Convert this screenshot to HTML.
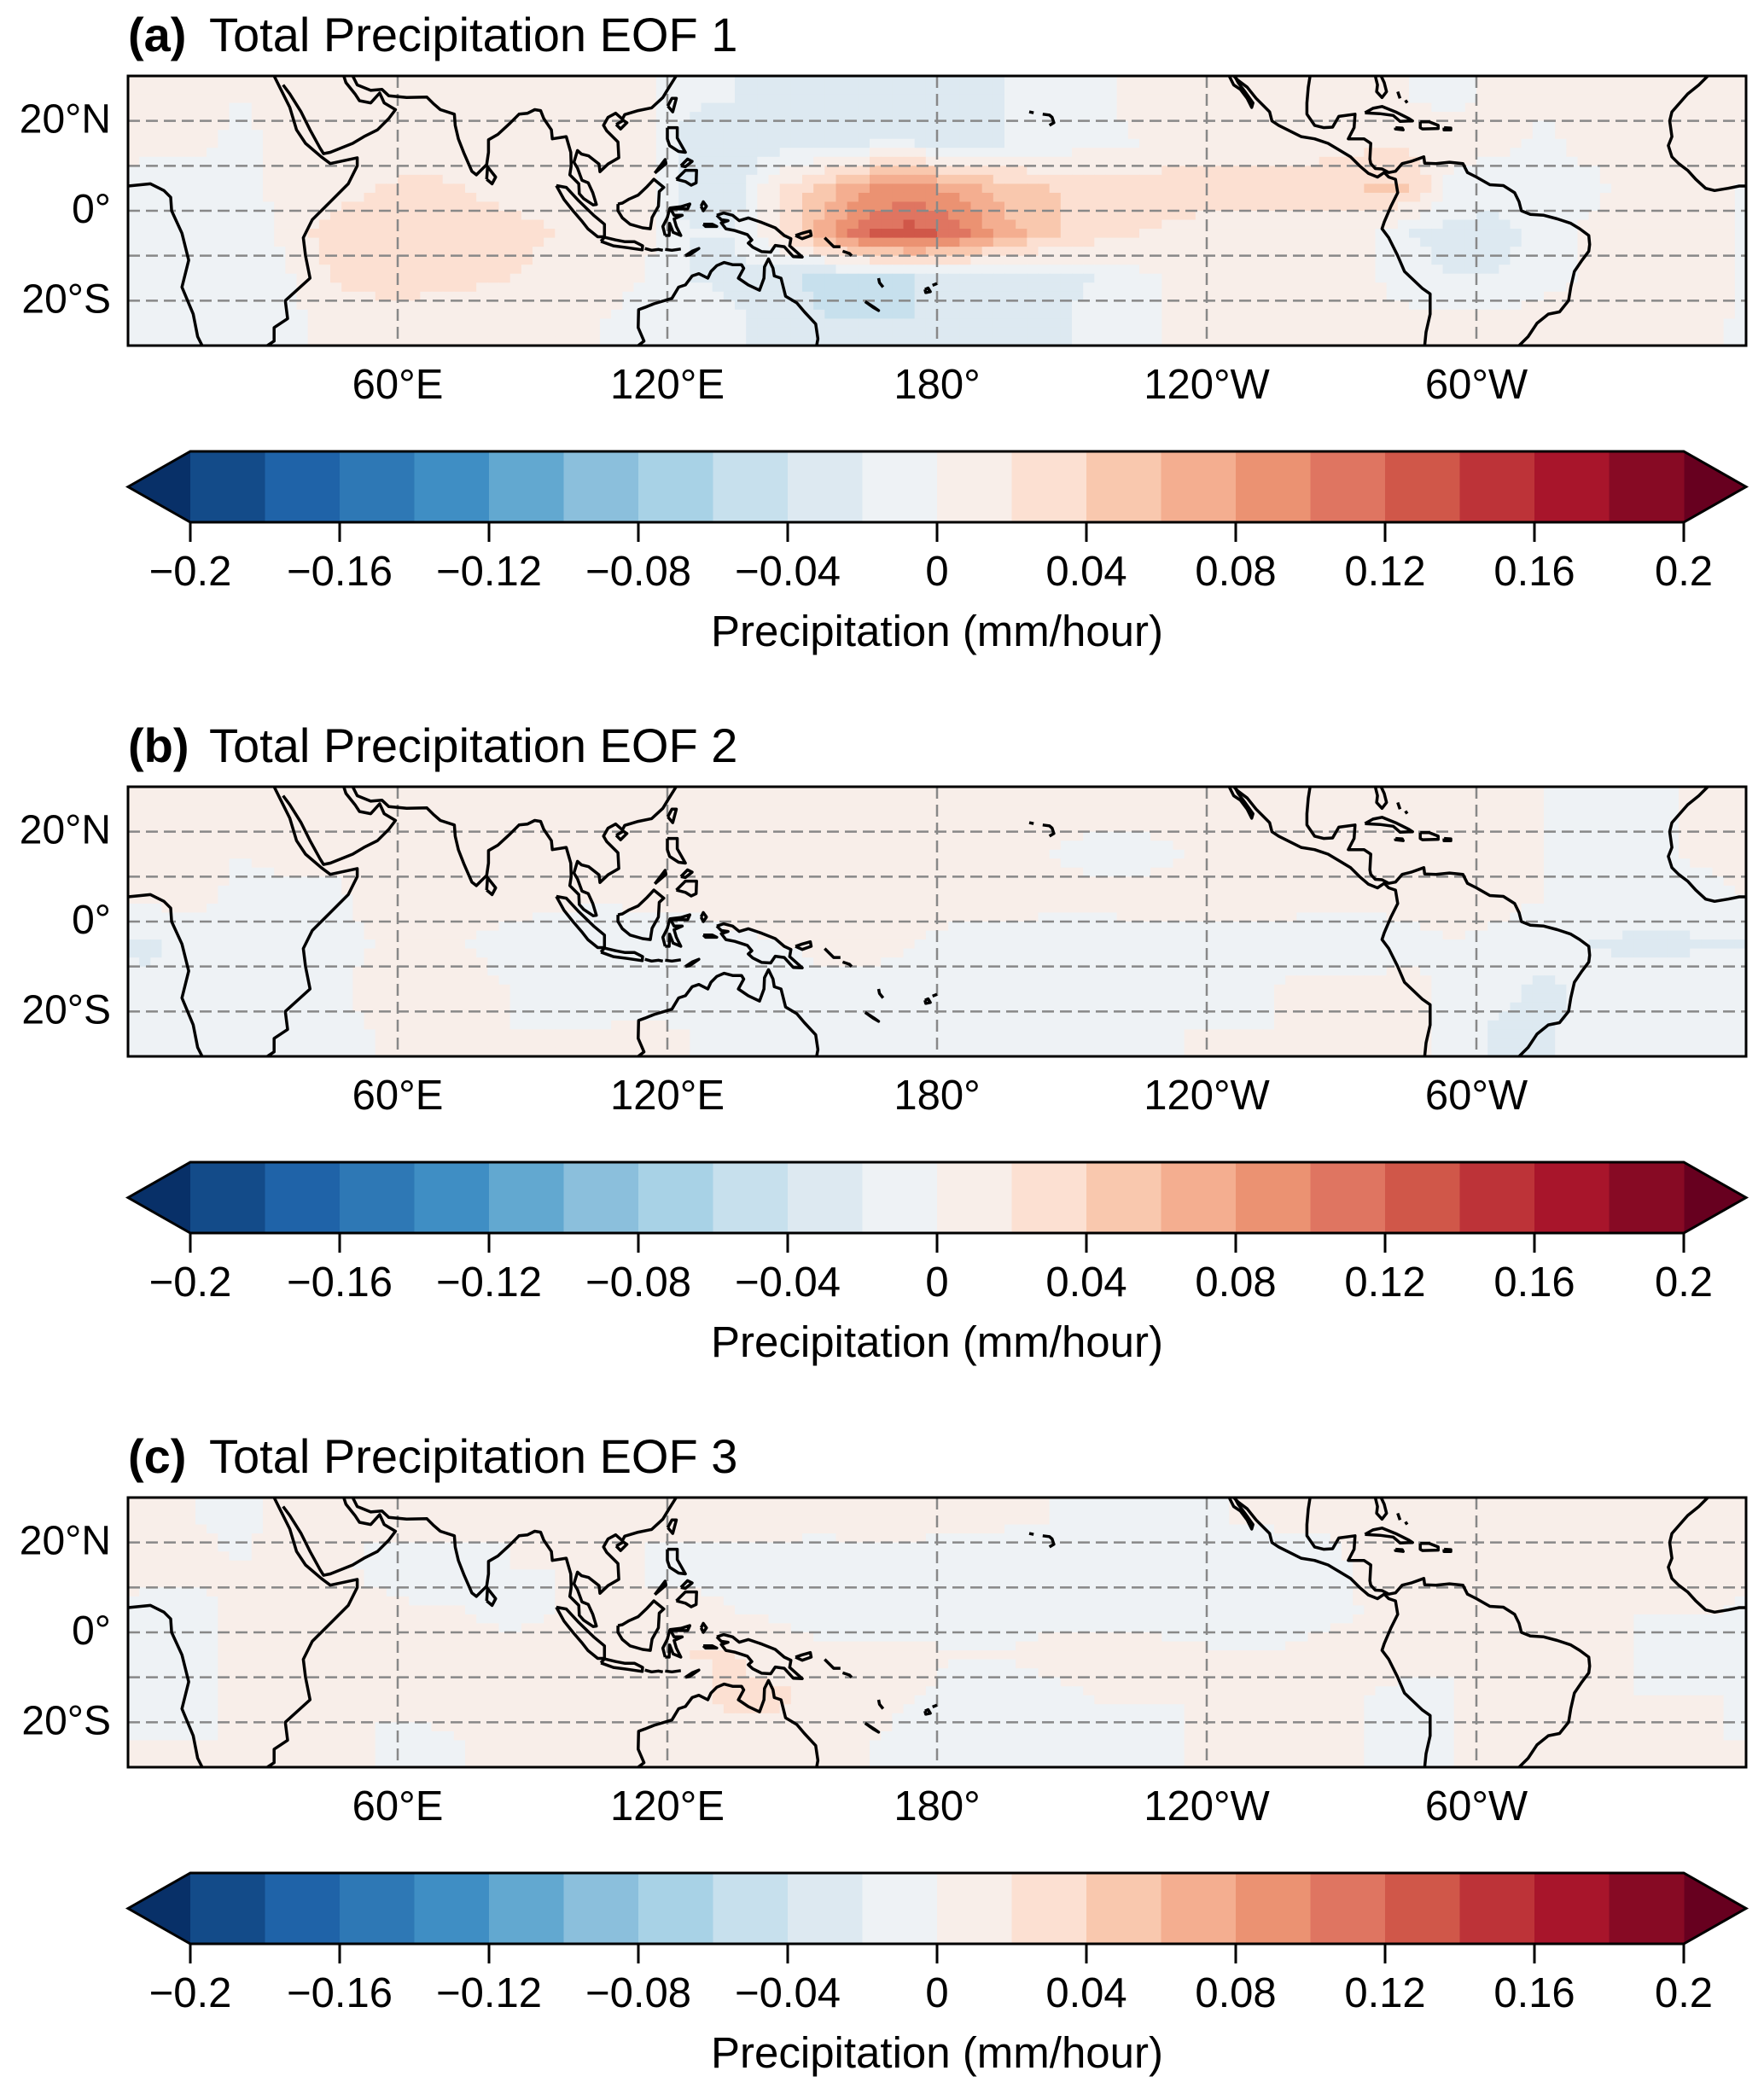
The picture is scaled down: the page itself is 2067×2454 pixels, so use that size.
<!DOCTYPE html>
<html><head><meta charset="utf-8"><style>
html,body{margin:0;padding:0;background:#fff;}
svg{display:block;font-family:"Liberation Sans",Arial,sans-serif;}
</style></head><body>
<svg id="fig" xmlns="http://www.w3.org/2000/svg" width="2067" height="2454" viewBox="0 0 2067 2454"></svg>
<script>
// ---- data arrays ----
const lonTicks = [60, 120, 180, 240, 300];
const lonTickLabels = ['60°E', '120°E', '180°', '120°W', '60°W'];
const latTicks = [20, 0, -20];
const latTickLabels = ['20°N', '0°', '20°S'];
const latGrid = [20, 10, 0, -10, -20];
const cbTicks = [-0.2, -0.16, -0.12, -0.08, -0.04, 0, 0.04, 0.08, 0.12, 0.16, 0.2];
const cbTickLabels = ['\u22120.2', '\u22120.16', '\u22120.12', '\u22120.08', '\u22120.04', '0', '0.04', '0.08', '0.12', '0.16', '0.2'];
const panelLetters = ['(a)', '(b)', '(c)'];
const panelTitles = ['Total Precipitation EOF 1', 'Total Precipitation EOF 2', 'Total Precipitation EOF 3'];
// grid: lat rows 25,15,5,-5,-15,-25 ; lon centres 5..355 step 10
const gridLats = [25, 15, 5, -5, -15, -25];
const eof1Field = [
[.005,.005,0,.005,.005,.005,.005,.005,.01,.01,.005,.005,-.015,-.02,-.025,-.025,-.025,-.025,-.025,-.02,-.01,-.005,.005,.005,.01,.005,.005,.005,0,-.005,.005,.005,.005,.005,.005,.005],
[.005,.005,-.005,.005,.01,.01,.01,.005,.01,.005,.005,.005,-.035,-.04,-.03,-.025,-.02,-.02,-.025,-.02,-.015,-.005,0,.01,.01,.01,.01,.015,.015,.01,.005,-.005,.005,.005,.005,.005],
[-.01,-.01,-.005,.005,.01,.02,.025,.02,.01,.01,.005,.005,-.03,-.03,.02,.05,.08,.09,.07,.05,.04,.035,.03,.03,.03,.03,.035,.04,.045,-.01,-.015,-.005,-.005,.005,.005,.005],
[-.015,-.01,-.015,.005,.03,.035,.035,.035,.03,.02,.01,.005,-.02,-.02,.02,.07,.12,.13,.11,.07,.045,.03,.02,.015,.01,.01,.01,.005,-.02,-.025,-.025,-.015,.005,.005,.005,.005],
[-.01,-.01,-.005,-.005,.02,.03,.03,.025,.02,.01,.005,0,-.02,-.025,-.035,-.045,-.045,-.04,-.035,-.03,-.025,-.02,-.005,.005,.005,.005,.005,.005,-.015,-.02,-.02,-.01,.005,.01,.005,.005],
[-.005,-.005,0,-.005,.005,.005,.005,.005,.005,.005,0,-.005,-.01,-.015,-.03,-.04,-.04,-.04,-.035,-.03,-.025,-.015,-.005,.005,.005,.005,.005,.01,.01,.005,.005,.015,.01,.005,.005,0]
];
const eof2Field = [
[0,.005,.005,.005,0,.005,.005,.005,.005,.005,.005,.005,.005,.005,.005,0,0,.005,.005,.005,.005,.005,.005,.005,.005,.01,.01,.01,.01,.005,.005,0,-.005,-.005,0,0],
[.01,.005,0,.005,.005,.005,.005,.01,.01,.005,.005,.005,.01,.01,.01,.005,.005,.005,.005,.005,0,-.005,-.005,0,.005,.01,.015,.015,.01,.01,.005,0,-.005,-.005,0,.005],
[.005,.005,-.005,-.005,-.005,.005,.005,.005,.005,.005,0,.005,.005,.01,.015,.015,.015,.015,.01,.01,.005,.005,.005,.005,.005,.005,.005,.005,.005,.005,.005,0,-.005,-.005,-.005,-.005],
[-.025,-.01,-.005,-.005,-.005,0,.005,0,-.005,-.01,-.01,-.01,-.01,-.005,0,.005,.005,0,-.01,-.01,-.01,-.01,-.005,-.005,-.005,-.005,-.01,-.01,-.005,0,-.005,-.01,-.02,-.025,-.025,-.02],
[-.015,-.005,0,-.005,-.005,.005,.005,.005,0,-.005,-.005,-.01,-.01,-.01,-.01,-.005,-.005,-.005,-.005,-.005,-.01,-.005,-.005,-.005,-.005,0,.005,.005,.005,-.005,-.015,-.025,-.015,-.005,-.005,-.005],
[-.005,0,-.005,-.01,-.005,0,.005,.005,0,0,0,.005,0,-.005,-.005,-.005,-.01,-.01,-.005,-.01,-.015,-.01,-.005,0,0,0,.005,.005,.005,-.005,-.025,-.025,-.01,-.005,-.005,0]
];
const eof3Field = [
[0,0,-.005,.005,.005,.005,.005,.005,0,0,.005,0,.005,.005,.005,.005,.015,.015,.01,.005,0,-.005,-.005,-.005,0,.005,.005,.005,.005,0,0,.005,.005,.005,.005,.005],
[.005,.005,0,.005,.005,-.005,-.005,-.005,0,0,.005,0,-.005,-.005,-.005,-.01,-.015,-.02,-.02,-.02,-.015,-.01,-.01,-.015,-.02,-.02,-.01,.005,.005,.005,.005,0,0,0,.005,.005],
[-.005,-.005,.005,.015,.005,.005,0,0,-.005,0,.005,0,.005,0,-.005,-.01,-.01,-.01,-.01,-.005,-.005,-.005,-.005,-.01,-.01,-.005,-.005,0,.005,.005,.01,.005,.005,0,0,0],
[-.01,-.005,.005,.01,.005,.005,.005,.005,.005,.005,.01,.01,.02,.02,.01,.005,.005,.005,0,0,.005,.005,.005,.005,0,0,.005,.005,.005,0,0,.005,0,0,-.005,-.005],
[-.005,-.005,.005,.005,.005,0,.005,.005,.005,.005,.005,.01,.015,.025,.025,.01,.005,0,-.005,-.005,-.005,0,0,0,.005,.005,.005,0,-.005,0,.005,.005,.005,0,0,0],
[0,0,0,.005,0,0,-.005,0,.005,.005,0,0,.005,.01,.005,0,0,-.005,-.01,-.015,-.015,-.01,-.005,0,.005,.005,.005,0,-.005,0,.005,.005,0,0,0,0]
];
const fields = [eof1Field, eof2Field, eof3Field];
// coastlines [lon(0-360), lat]
const coasts = [
[[0,5.5],[5,6],[8,4.5],[9.5,3],[9.7,0],[12,-5],[13.5,-11],[12,-17],[14.5,-23],[15.5,-28],[16.5,-30]],
[[32.5,30],[34,27],[36,23],[37.5,18],[39.5,15],[43,12],[45,10.5],[51,11.8],[51,10],[49,6],[45,2],[41,-2],[39,-6],[39.5,-10],[40.5,-15],[35,-20],[35.5,-24],[32.5,-26],[32.5,-29],[31,-30]],
[[34.5,28],[36,26],[38.5,22],[40.5,18],[42.7,14],[43.5,12.7],[45,13],[50,15],[52.5,16.5],[55.5,18],[58,20.5],[59.5,22.5],[57,24],[56,26.2],[54,24],[51.5,24.5],[50.5,26],[48.5,28.5],[48,30]],
[[50,30],[51,28],[54,26.8],[56.5,27],[58,25.6],[62,25.2],[66.5,25.3],[68,23.8],[69.5,22.5],[72.6,21.5],[72.8,19],[73.5,16],[74.8,12.7],[76.5,8.8],[77.5,8],[79.8,10.3],[80.2,13],[80.2,15.8],[82.3,17],[85,19.5],[87,21.5],[88.9,21.7],[90.5,22.5],[91.8,22.3],[92.5,20.5],[94.2,18],[94.4,16],[97.5,16.5],[98.5,13],[98.6,10],[98.3,8],[100.3,6],[100.4,3.8],[101.4,2.7],[103.5,1.3],[104.2,1.4],[103.4,4],[102.4,6.2],[101,6.8],[100,9.5],[99.2,10.8],[100,13.4],[100.9,12.6],[102.5,12.2],[104.8,10.4],[105,8.7],[106.8,10.4],[109.2,11.8],[109,15.3],[106.5,17.8],[105.8,19],[106.8,20.8],[108.5,21.7],[110,20.4],[110.5,21.4],[113.5,22.3],[116.5,22.9],[119,25.2],[120.2,27.2],[121.9,29.9],[122,30]],
[[108.6,19.2],[110.2,20.1],[111,19.6],[109.6,18.2],[108.6,19.2]],
[[120.1,23.3],[121,25],[122,25],[121.2,22],[120.1,23.3]],
[[79.8,7],[80,9.8],[81.8,7.5],[81,6],[79.8,7]],
[[120,18.5],[122.2,18.5],[122.2,16.2],[124,13],[122.5,13.2],[120.5,14.5],[120,16],[120,18.5]],
[[122,7],[124,9],[126.5,9],[126.4,6.2],[125.3,5.7],[124,6.5],[122,7]],
[[123,10],[124.5,11.5],[125.5,11],[124,9.8],[123,10]],
[[117.2,8.4],[119.5,11.4],[119.7,10.5],[117.2,8.4]],
[[109,1.5],[110,1.7],[111.5,2.6],[113.5,3.5],[115.5,5.4],[117,7],[119.2,5.2],[118.2,4.3],[118,1],[116.6,-1.5],[116.2,-4],[114.5,-3.8],[111.7,-3],[110,-1.6],[109,0],[109,1.5]],
[[95.3,5.6],[97.5,5.2],[100.3,2.2],[103.6,-1],[106,-3],[106,-5.8],[104.5,-5.8],[102.3,-4],[100.9,-2.2],[99,0],[97,2.5],[95.3,5.6]],
[[105.2,-6.8],[106,-5.9],[108.5,-6.5],[110.6,-6.9],[112.7,-6.9],[114.5,-7.8],[114.4,-8.7],[111,-8.2],[108,-7.8],[105.2,-6.8]],
[[115,-8.4],[116.5,-8.8],[118,-8.6],[119,-8.8]],
[[119.5,-8.6],[121,-8.8],[123,-8.5]],
[[124,-10],[125.5,-9],[127,-8.4],[125,-9.8],[124,-10]],
[[119.5,-5.5],[120.4,-5.5],[120.5,-2.8],[121.3,-4.8],[123,-5.5],[122,-3.5],[121.5,-1.8],[123.3,-1],[121.5,-1],[120.6,0.6],[123,0.9],[125,1.5],[124.5,0.4],[120.5,0.4],[120,-1.5],[119,-3.5],[119.5,-5.5]],
[[127.5,1],[128,2],[128.7,1],[128,0],[127.5,1]],
[[128,-3],[130,-3],[131,-3.5],[128.5,-3.5],[128,-3]],
[[131,-1],[132.5,-0.5],[134.5,-1],[136,-2.2],[138,-1.6],[141,-2.6],[144,-3.8],[146,-5.5],[147.5,-6.2],[147.2,-7.8],[150,-10.3],[148,-10.2],[146,-8],[144,-7.7],[143,-9.2],[141,-9.1],[139,-8.1],[138,-7.2],[138.8,-6.5],[137.8,-5.3],[135,-4.4],[133,-4],[132,-2.7],[133.5,-2.2],[132,-2],[131,-1]],
[[148.5,-5.5],[150,-5],[151.8,-4.5],[152,-5.5],[150,-6.2],[148.5,-5.5]],
[[155,-6],[156,-7],[157,-8],[158.5,-8]],
[[159,-9],[160.5,-9.5],[161,-10]],
[[167,-15],[167.2,-16],[168,-17]],
[[164,-20.2],[165.8,-21.5],[167,-22.2],[166,-21.5],[164,-20.2]],
[[177.3,-17.5],[178,-17.2],[178.5,-18],[177.5,-18.2],[177.3,-17.5]],
[[179,-16.6],[180,-16.2]],
[[200.5,22],[201.5,21.8]],
[[203.5,21.5],[205,21.3],[205.6,20.8],[206,19.6],[205,19]],
[[113.5,-30],[114.8,-29],[113.5,-26],[113.6,-22],[115,-21.5],[117,-20.7],[121,-19.5],[122.5,-17],[124,-16.5],[125.5,-14.5],[127,-14],[129,-15],[129.7,-13.5],[131,-12.2],[132.6,-11.5],[134.5,-12],[136.5,-12],[137,-12.8],[135.8,-15],[138,-16.5],[140.5,-17.7],[141.5,-15],[141.6,-12.5],[142.5,-10.7],[143.5,-12.8],[143.8,-14.5],[145.3,-15],[146.3,-19],[148.8,-20.5],[150.5,-22.5],[153,-25.2],[153.5,-28.5],[153.2,-30]],
[[245,30],[246,28],[247.5,27],[249,25],[250,23],[250.3,24],[248.5,26.5],[247,28.5],[246.2,30]],
[[245.5,30.5],[247,29],[249,27.5],[251,25],[254,22],[254.5,20],[256,19],[258,18],[261,16.5],[264,16],[267,15],[269.5,13.5],[272,12],[274,10],[276,8.3],[278,7.5],[279.5,8.5],[280.5,7.5],[282,7],[282.5,4],[281,1],[279.5,-2.5],[279,-4],[280.5,-6],[282.5,-10],[284,-13.5],[288,-17.3],[289.7,-18.5],[289.7,-23],[288.8,-27],[288.5,-30]],
[[263,30],[262.6,27.5],[262.3,24],[262.3,21.5],[264,19],[266,18.5],[268,18.6],[269.4,21],[273,21.5],[272.8,18.5],[271.5,16],[275,16],[276.5,15],[276.3,11.5],[276.5,10.5],[277.5,9.4],[279,9.3],[280.5,8.5],[282,8.8],[283.5,10.5],[285.5,11],[288.3,12],[288.5,10.6],[291,10.5],[294,10.8],[297,10.5],[298,8.5],[300,7.5],[303,5.8],[306,5.6],[308.5,4],[309.5,2],[310,0],[312,-0.8],[315,-1],[318,-1.8],[321,-2.8],[323,-4],[325,-5.5],[325.2,-7.5],[325,-9],[323.5,-11],[321.8,-13.5],[321,-17],[320.5,-20],[318.5,-22.5],[316,-23],[313.5,-25],[311.5,-28],[309.5,-30]],
[[277.5,30],[278,28],[277.8,26.5],[279,25.2],[280,26.5],[279.5,28.5],[278.8,30]],
[[275.2,21.8],[277,22.8],[279,23.2],[282,22],[285,20.5],[285.8,20],[283,19.9],[281.5,21.2],[278.5,21.6],[275.2,21.8]],
[[287.5,19.8],[289.5,19.8],[291.5,19],[291.5,18.3],[288,18.2],[287.5,18.5],[287.5,19.8]],
[[282,18.5],[283.5,18.4],[283.7,18],[282,18.2],[282,18.5]],
[[292.8,18.5],[294.3,18.4],[294.3,18],[292.8,18],[292.8,18.5]],
[[282.5,26.5],[283,25]],
[[284.2,24.6],[284.6,24]],
[[351.5,30],[349.5,28],[347,26],[343.5,22],[343,20],[343.5,16.5],[342.7,14.5],[343.5,12],[345,10.5],[347,9],[348.8,7],[351,5],[353,4.5],[356,5],[358.5,5.5],[360,5.5]]
];

// ---- styles ----
const blues = ['#134b89','#1f63a8','#2e78b5','#3f8ec4','#62a8d0','#8bbfdc','#a8d2e6','#c7e0ed','#dde9f1','#eef2f5'];
const reds = ['#f8eee9','#fce0d2','#f9c8ae','#f4ae90','#eb9272','#df7561','#d05749','#bd3338','#a8152b','#870a24'];
const binColors = blues.concat(reds);
const underColor = '#083068', overColor = '#67001f';
const vmin = -0.2, vmax = 0.2, nBins = 20;

const NS = 'http://www.w3.org/2000/svg';
const svg = document.getElementById('fig');
function mk(tag, attrs, parent) {
  const e = document.createElementNS(NS, tag);
  for (const k in attrs) e.setAttribute(k, attrs[k]);
  (parent || svg).appendChild(e);
  return e;
}
const mapL = 150, mapR = 2046, mapT = 89, mapB = 405;
const offsets = [0, 833, 1666];
function xLon(lon) { return mapL + (lon / 360) * (mapR - mapL); }
function yLat(lat, dy) { return dy + mapT + ((30 - lat) / 60) * (mapB - mapT); }
const cbL = 223, cbR = 1973, cbT = 529, cbB = 612;
function xVal(v) { return cbL + (v - vmin) / (vmax - vmin) * (cbR - cbL); }
function colorOf(v) {
  if (v < vmin) return underColor;
  if (v >= vmax) return overColor;
  let i = Math.floor((v - vmin) / ((vmax - vmin) / nBins) + 1e-9);
  return binColors[Math.max(0, Math.min(nBins - 1, i))];
}
function sample(field, lon, lat) {
  let fi = (lon - 5) / 10; fi = ((fi % 36) + 36) % 36;
  let i0 = Math.floor(fi), i1 = (i0 + 1) % 36, tx = fi - i0;
  let fj = (25 - lat) / 10; fj = Math.max(0, Math.min(5, fj));
  let j0 = Math.floor(fj), j1 = Math.min(5, j0 + 1), ty = fj - j0;
  const a = field[j0][i0] * (1 - tx) + field[j0][i1] * tx;
  const b = field[j1][i0] * (1 - tx) + field[j1][i1] * tx;
  return a * (1 - ty) + b * ty;
}

offsets.forEach((dy, p) => {
  const g = mk('g', {});
  
  
  const t1 = mk('text', {x: 150, y: dy + 60, 'font-size': 56, 'font-weight': 'bold'}, g);
  t1.textContent = panelLetters[p];
  
  
  const t2 = mk('text', {x: 245, y: dy + 60, 'font-size': 56}, g);
  t2.textContent = panelTitles[p];
  
  
  const cp = mk('clipPath', {id: 'clip' + p}, g);
  mk('rect', {x: mapL, y: yLat(30, dy), width: mapR - mapL, height: yLat(-30, dy) - yLat(30, dy)}, cp);
  const mg = mk('g', {'clip-path': 'url(#clip' + p + ')'}, g);
  
  
  const dLon = 2.5, dLat = 2;
  for (let lat = 30; lat > -30; lat -= dLat) {
    for (let lon = 0; lon < 360; lon += dLon) {
      const v = sample(fields[p], lon + dLon / 2, lat - dLat / 2);
      const x0 = xLon(lon), y0 = yLat(lat, dy);
      const r = mk('rect', {x: x0, y: y0, width: xLon(lon + dLon) - x0 + 0.6, height: yLat(lat - dLat, dy) - y0 + 0.6, fill: colorOf(v)}, mg);
      
      
    }
  }
  latGrid.forEach(lat => {
    const l = mk('line', {x1: mapL, x2: mapR, y1: yLat(lat, dy), y2: yLat(lat, dy), stroke: '#888', 'stroke-width': 2.5, 'stroke-dasharray': '14 7'}, mg);
    
    
  });
  lonTicks.forEach(lon => {
    const l = mk('line', {x1: xLon(lon), x2: xLon(lon), y1: yLat(30, dy), y2: yLat(-30, dy), stroke: '#888', 'stroke-width': 2.5, 'stroke-dasharray': '14 7'}, mg);
    
    
  });
  coasts.forEach(c => {
    const pts = c.map(q => xLon(q[0]).toFixed(1) + ',' + yLat(q[1], dy).toFixed(1)).join(' ');
    const pl = mk('polyline', {points: pts, fill: 'none', stroke: '#000', 'stroke-width': 3.5, 'stroke-linejoin': 'round'}, mg);
    
    
  });
  const fr = mk('rect', {x: mapL, y: yLat(30, dy), width: mapR - mapL, height: yLat(-30, dy) - yLat(30, dy), fill: 'none', stroke: '#000', 'stroke-width': 3}, g);
  
  
  latTicks.forEach((lat, i) => {
    const t = mk('text', {x: 130, y: yLat(lat, dy) + 14, 'font-size': 48, 'text-anchor': 'end'}, g);
    t.textContent = latTickLabels[i];
    
    
  });
  lonTicks.forEach((lon, i) => {
    const t = mk('text', {x: xLon(lon), y: dy + 467, 'font-size': 49, 'text-anchor': 'middle'}, g);
    t.textContent = lonTickLabels[i];
    
    
  });
  const cb = mk('g', {}, g);
  
  
  const yt = dy + cbT, yb = dy + cbB, ym = (yt + yb) / 2;
  const tl = mk('polygon', {points: `${cbL},${yt} ${cbL},${yb} ${mapL},${ym}`, fill: underColor}, cb);
  
  
  const tr = mk('polygon', {points: `${cbR},${yt} ${cbR},${yb} ${mapR},${ym}`, fill: overColor}, cb);
  
  
  binColors.forEach((c, i) => {
    const v0 = vmin + i * (vmax - vmin) / nBins, v1 = v0 + (vmax - vmin) / nBins;
    const r = mk('rect', {x: xVal(v0), y: yt, width: xVal(v1) - xVal(v0) + 0.5, height: yb - yt, fill: c}, cb);
    
    
  });
  const ol = mk('polygon', {points: `${mapL},${ym} ${cbL},${yt} ${cbR},${yt} ${mapR},${ym} ${cbR},${yb} ${cbL},${yb}`, fill: 'none', stroke: '#000', 'stroke-width': 3}, cb);
  
  
  cbTicks.forEach((v, i) => {
    const tk = mk('line', {x1: xVal(v), x2: xVal(v), y1: yb, y2: yb + 23, stroke: '#000', 'stroke-width': 3}, cb);
    
    
    const t = mk('text', {x: xVal(v), y: dy + 686, 'font-size': 49, 'text-anchor': 'middle'}, cb);
    t.textContent = cbTickLabels[i];
    
    
  });
  const lab = mk('text', {x: xVal(0), y: dy + 757, 'font-size': 51, 'text-anchor': 'middle'}, cb);
  lab.textContent = 'Precipitation (mm/hour)';
  
  
});
</script>
</body></html>
